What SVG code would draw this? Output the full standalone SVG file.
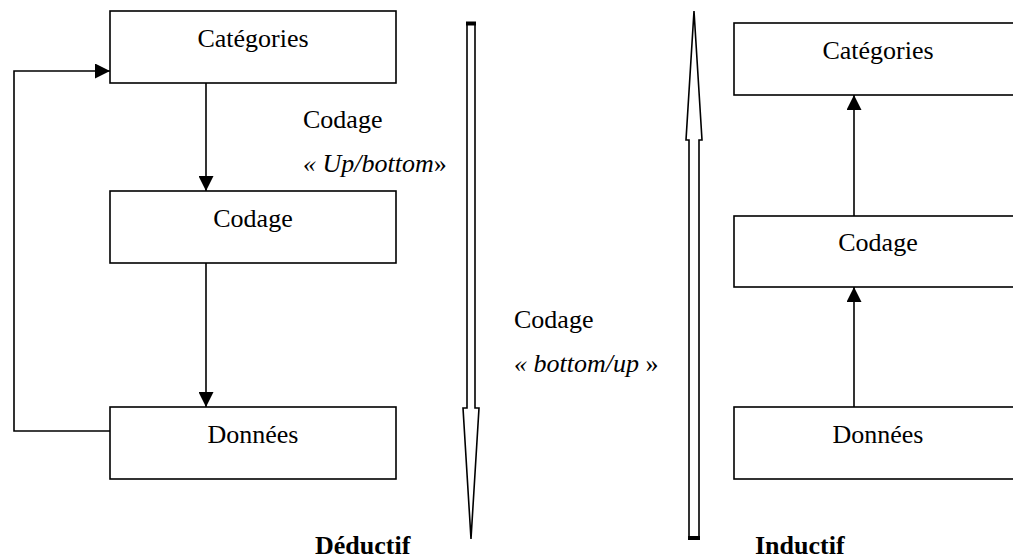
<svg xmlns="http://www.w3.org/2000/svg" width="1013" height="559" viewBox="0 0 1013 559">
<style>
.box{fill:#fff;stroke:#000;stroke-width:1.6}
.t{font-family:"Liberation Serif","Times New Roman",serif;font-size:26px;fill:#000}
.c{text-anchor:middle}
.i{font-style:italic}
.b{font-weight:bold}
.ln{fill:none;stroke:#000;stroke-width:1.6}
.big{fill:#fff;stroke:#000;stroke-width:1.6;stroke-linejoin:miter}
</style>
<defs>
<marker id="ah" viewBox="0 0 10 10" refX="10" refY="5" markerWidth="15" markerHeight="15" markerUnits="userSpaceOnUse" orient="auto">
<path d="M0,0 L10,5 L0,10 Z" fill="#000"/>
</marker>
</defs>
<rect width="1013" height="559" fill="#fff"/>
<g id="connectors">
<line class="ln" x1="206" y1="83" x2="206" y2="191" marker-end="url(#ah)"/>
<line class="ln" x1="206" y1="263" x2="206" y2="407" marker-end="url(#ah)"/>
<polyline class="ln" points="110,431 14,431 14,71 110,71" marker-end="url(#ah)"/>
<line class="ln" x1="854" y1="407" x2="854" y2="287" marker-end="url(#ah)"/>
<line class="ln" x1="854" y1="216" x2="854" y2="95" marker-end="url(#ah)"/>
</g>
<g id="left-categories">
<rect class="box" x="110" y="11" width="286" height="72"/>
<text class="t c" x="253" y="47">Catégories</text>
</g>
<g id="left-codage">
<rect class="box" x="110" y="191" width="286" height="72"/>
<text class="t c" x="253" y="227">Codage</text>
</g>
<g id="left-donnees">
<rect class="box" x="110" y="407" width="286" height="72"/>
<text class="t c" x="253" y="443">Données</text>
</g>
<g id="right-categories">
<rect class="box" x="734" y="23" width="288" height="72"/>
<text class="t c" x="878" y="59">Catégories</text>
</g>
<g id="right-codage">
<rect class="box" x="734" y="216" width="288" height="71"/>
<text class="t c" x="878" y="251">Codage</text>
</g>
<g id="right-donnees">
<rect class="box" x="734" y="407" width="288" height="72"/>
<text class="t c" x="878" y="443">Données</text>
</g>
<g id="down-arrow">
<path class="big" d="M467,23 L475,23 L475,408 L479,408 L471,539 L463,408 L467,408 Z"/>
<rect x="466" y="21.5" width="10" height="4" fill="#000"/>
</g>
<g id="up-arrow">
<path class="big" d="M694,11 L702,140 L699,140 L699,538 L689,538 L689,140 L686,140 Z"/>
<rect x="688" y="536" width="12" height="4" fill="#000"/>
</g>
<g id="labels">
<text class="t" x="303" y="128">Codage</text>
<text class="t" x="303" y="172"><tspan class="i">« Up/bottom</tspan>»</text>
<text class="t" x="514" y="328">Codage</text>
<text class="t" x="514" y="372"><tspan class="i">« bottom/up </tspan>»</text>
<text class="t b" x="315" y="554">Déductif</text>
<text class="t b" x="755" y="554">Inductif</text>
</g>
</svg>
